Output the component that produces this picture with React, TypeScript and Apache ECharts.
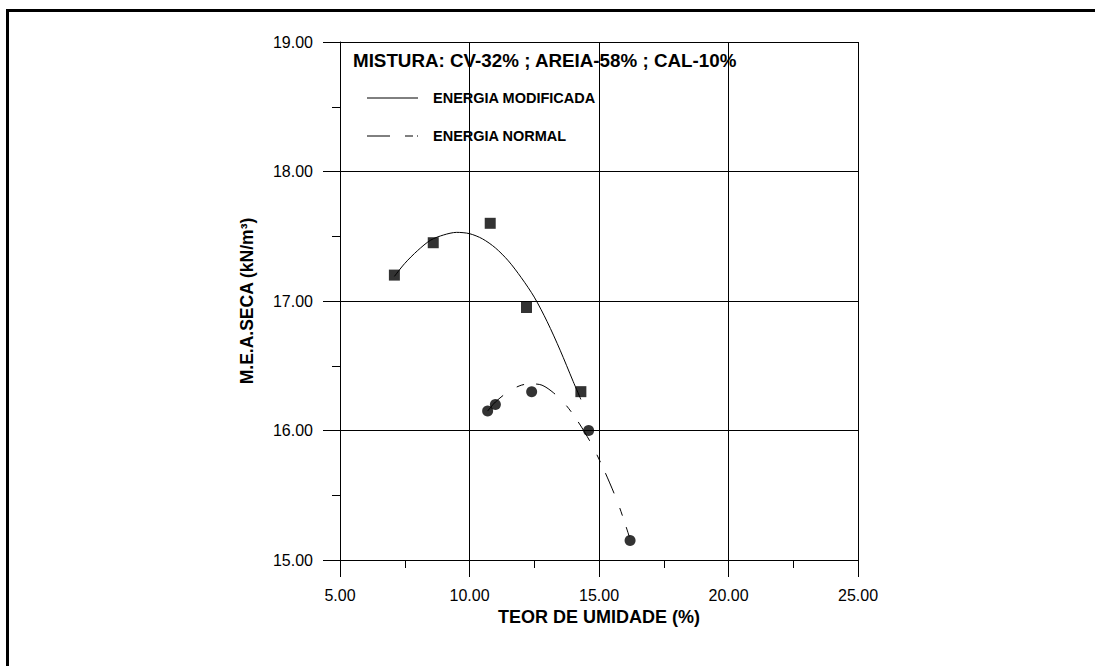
import React, { useEffect, useRef } from "react";
import * as echarts from "echarts";

const FONT = "'Liberation Sans', Arial, Helvetica, sans-serif";

const titleText = "MISTURA: CV-32% ; AREIA-58% ; CAL-10%";
const xAxisName = "TEOR DE UMIDADE (%)";
const yAxisName = "M.E.A.SECA (kN/m³)";
const legendNames = ["ENERGIA MODIFICADA", "ENERGIA NORMAL"];

// Measured points (teor de umidade %, M.E.A.SECA kN/m³)
const modificadaPoints: [number, number][] = [
  [7.1, 17.2],
  [8.6, 17.45],
  [10.8, 17.6],
  [12.2, 16.95],
  [14.3, 16.3],
];
const normalPoints: [number, number][] = [
  [10.7, 16.15],
  [11.0, 16.2],
  [12.4, 16.3],
  [14.6, 16.0],
  [16.2, 15.15],
];

// Fitted curves
const modificadaCurve: [number, number][] = [
  [7.1, 17.19],
  [7.5, 17.29],
  [8.0, 17.39],
  [8.5, 17.47],
  [9.0, 17.51],
  [9.5, 17.53],
  [10.0, 17.52],
  [10.5, 17.48],
  [11.0, 17.41],
  [11.5, 17.31],
  [12.0, 17.18],
  [12.5, 17.03],
  [13.0, 16.84],
  [13.5, 16.62],
  [14.0, 16.38],
  [14.3, 16.24],
];
const normalCurve: [number, number][] = [
  [10.7, 16.15],
  [11.0, 16.22],
  [11.5, 16.3],
  [12.0, 16.35],
  [12.4, 16.36],
  [12.8, 16.35],
  [13.25, 16.29],
  [13.75, 16.19],
  [14.25, 16.05],
  [14.75, 15.88],
  [15.25, 15.67],
  [15.75, 15.43],
  [16.17, 15.18],
];

const xMin = 5;
const xMax = 25;
const xStep = 5;
const yMin = 15;
const yMax = 19;
const yStep = 1;

export default function App() {
  const ref = useRef<HTMLDivElement>(null);

  useEffect(() => {
    if (!ref.current) return;
    const chart = echarts.init(ref.current, null, { renderer: "svg" });
    const axisCommon = {
      type: "value" as const,
      nameLocation: "middle" as const,
      nameTextStyle: { fontFamily: FONT, fontWeight: "bold", color: "#000" },
      axisLine: { show: true, lineStyle: { color: "#000", width: 1 } },
      axisTick: { show: true, inside: false, length: 17, lineStyle: { color: "#000", width: 1 } },
      minorTick: { show: true, splitNumber: 2, length: 8, lineStyle: { color: "#000", width: 1 } },
      splitLine: { show: true, lineStyle: { color: "#000", width: 1 } },
      axisLabel: {
        fontFamily: FONT,
        fontSize: 16,
        color: "#000",
        margin: 27,
        formatter: (v: number) => v.toFixed(2),
      },
    };
    chart.setOption({
      animation: false,
      backgroundColor: "#fff",
      grid: { left: 340, top: 42, width: 518, height: 518, containLabel: false },
      xAxis: {
        ...axisCommon,
        min: xMin,
        max: xMax,
        interval: xStep,
        name: xAxisName,
        nameGap: 47,
        nameTextStyle: { ...axisCommon.nameTextStyle, fontSize: 18 },
      },
      yAxis: {
        ...axisCommon,
        min: yMin,
        max: yMax,
        interval: yStep,
        name: yAxisName,
        nameGap: 84,
        nameTextStyle: { ...axisCommon.nameTextStyle, fontSize: 17.5 },
      },
      series: [
        {
          name: legendNames[0] + " curva",
          type: "line",
          data: modificadaCurve,
          smooth: 0.3,
          showSymbol: false,
          silent: true,
          lineStyle: { color: "#000", width: 1 },
        },
        {
          name: legendNames[1] + " curva",
          type: "line",
          data: normalCurve,
          smooth: 0.3,
          showSymbol: false,
          silent: true,
          lineStyle: { color: "#000", width: 1, type: [22, 16, 8, 12] },
        },
        {
          name: legendNames[0],
          type: "scatter",
          data: modificadaPoints,
          symbol: "rect",
          symbolSize: 11,
          itemStyle: { color: "#000" },
        },
        {
          name: legendNames[1],
          type: "scatter",
          data: normalPoints,
          symbol: "circle",
          symbolSize: 11,
          itemStyle: { color: "#000" },
        },
      ],
      graphic: [
        {
          type: "rect",
          shape: { x: 7.5, y: 10.5, width: 1200, height: 800 },
          style: { fill: "none", stroke: "#000", lineWidth: 3 },
          silent: true,
        },
        {
          type: "text",
          x: 353,
          y: 60,
          style: {
            text: titleText,
            fontFamily: FONT,
            fontWeight: "bold",
            fontSize: 18.8,
            fill: "#000",
            textVerticalAlign: "middle",
          },
        },
        {
          type: "line",
          shape: { x1: 367, y1: 98, x2: 418, y2: 98 },
          style: { stroke: "#000", lineWidth: 1 },
        },
        {
          type: "line",
          shape: { x1: 367, y1: 136, x2: 418, y2: 136 },
          style: { stroke: "#000", lineWidth: 1, lineDash: [23, 15, 8, 4] },
        },
        {
          type: "text",
          x: 433,
          y: 98,
          style: {
            text: legendNames[0],
            fontFamily: FONT,
            fontWeight: "bold",
            fontSize: 14.5,
            fill: "#000",
            textVerticalAlign: "middle",
          },
        },
        {
          type: "text",
          x: 433,
          y: 136,
          style: {
            text: legendNames[1],
            fontFamily: FONT,
            fontWeight: "bold",
            fontSize: 14.5,
            fill: "#000",
            textVerticalAlign: "middle",
          },
        },
      ],
    });
    return () => chart.dispose();
  }, []);

  return (
    <div
      ref={ref}
      style={{ position: "absolute", left: 0, top: 0, width: 1095, height: 666, background: "#fff" }}
    />
  );
}
